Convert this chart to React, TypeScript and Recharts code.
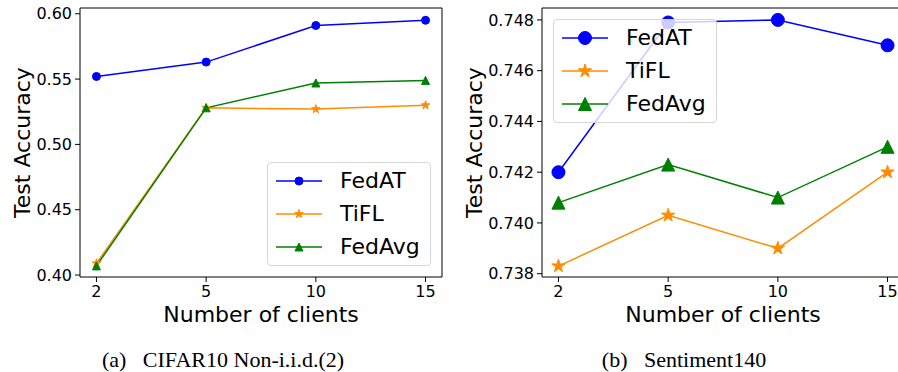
import React from 'react';
import { LineChart, Line, XAxis, YAxis, ReferenceArea, Legend, Label } from 'recharts';

// x categories (number of clients)
const clients = ['2', '5', '10', '15'];

// (a) CIFAR10 Non-i.i.d.(2)
const cifarFedAT = [0.552, 0.563, 0.591, 0.595];
const cifarTiFL = [0.409, 0.528, 0.527, 0.53];
const cifarFedAvg = [0.407, 0.528, 0.547, 0.549];
const cifarTicks = [0.4, 0.45, 0.5, 0.55, 0.6];

// (b) Sentiment140
const sentFedAT = [0.742, 0.7479, 0.748, 0.747];
const sentTiFL = [0.7383, 0.7403, 0.739, 0.742];
const sentFedAvg = [0.7408, 0.7423, 0.741, 0.743];
const sentTicks = [0.738, 0.74, 0.742, 0.744, 0.746, 0.748];

const FONT = '"DejaVu Sans", sans-serif';
const SERIF = '"Liberation Serif", "Times New Roman", serif';

type Shape = 'circle' | 'star' | 'triangle';

const series: { key: string; name: string; color: string; shape: Shape }[] = [
  { key: 'fedat', name: 'FedAT', color: '#0000ff', shape: 'circle' },
  { key: 'tifl', name: 'TiFL', color: '#ff8c00', shape: 'star' },
  { key: 'fedavg', name: 'FedAvg', color: '#008000', shape: 'triangle' },
];

const buildRows = (a: number[], b: number[], c: number[]) =>
  clients.map((label, i) => ({ idx: i, label, fedat: a[i], tifl: b[i], fedavg: c[i] }));

const cifarData = buildRows(cifarFedAT, cifarTiFL, cifarFedAvg);
const sentData = buildRows(sentFedAT, sentTiFL, sentFedAvg);

const Marker = ({ shape, cx, cy, r, color }: { shape: Shape; cx: number; cy: number; r: number; color: string }) => {
  if (shape === 'circle') return <circle cx={cx} cy={cy} r={r} fill={color} stroke={color} strokeWidth={1} />;
  if (shape === 'triangle') {
    const pts = `${cx},${cy - r} ${cx - r},${cy + r} ${cx + r},${cy + r}`;
    return <polygon points={pts} fill={color} stroke={color} strokeWidth={1} />;
  }
  const pts: string[] = [];
  for (let k = 0; k < 10; k++) {
    const rad = k % 2 === 0 ? r : r * 0.38;
    const ang = -Math.PI / 2 + (k * Math.PI) / 5;
    pts.push(`${cx + rad * Math.cos(ang)},${cy + rad * Math.sin(ang)}`);
  }
  return <polygon points={pts.join(' ')} fill={color} stroke={color} strokeWidth={1} />;
};

const sizes = {
  small: { circle: 4, star: 4.5, triangle: 4 },
  big: { circle: 6.5, star: 7, triangle: 6.5 },
};

const LegendBox = ({ size }: { size: 'small' | 'big' }) => (
  <div
    style={{
      boxSizing: 'border-box',
      width: 164,
      height: 104,
      border: '1px solid #d6d6d6',
      borderRadius: 4,
      background: 'rgba(255,255,255,0.8)',
      paddingTop: 1,
      fontFamily: FONT,
      fontSize: 22,
      color: '#000',
      textAlign: 'left',
    }}
  >
    {series.map((s) => (
      <div key={s.key} style={{ height: 33, lineHeight: '33px', display: 'flex', alignItems: 'center' }}>
        <svg width={46} height={20} style={{ marginLeft: 8, flex: 'none' }}>
          <line x1={0} y1={10} x2={46} y2={10} stroke={s.color} strokeWidth={1.5} />
          <Marker shape={s.shape} cx={23} cy={10} r={sizes[size][s.shape]} color={s.color} />
        </svg>
        <span style={{ marginLeft: 18 }}>{s.name}</span>
      </div>
    ))}
  </div>
);

const YTitle = ({ x, viewBox }: { x: number; viewBox?: any }) => {
  const cy = viewBox.y + viewBox.height / 2;
  return (
    <text x={x} y={cy} transform={`rotate(-90, ${x}, ${cy})`} textAnchor="middle" fontSize={22} fontFamily={FONT} fill="#000">
      Test Accuracy
    </text>
  );
};

type PanelProps = {
  data: typeof cifarData;
  width: number;
  yWidth: number;
  marginRight: number;
  domain: [number, number];
  ticks: number[];
  digits: number;
  size: 'small' | 'big';
  legendPos: { left: number; top: number };
  titleX: number;
};

const Panel = ({ data, width, yWidth, marginRight, domain, ticks, digits, size, legendPos, titleX }: PanelProps) => (
  <LineChart width={width} height={372} data={data} margin={{ top: 8, right: marginRight, left: 0, bottom: 45 }}>
    <XAxis
      type="number"
      dataKey="idx"
      domain={[-0.15, 3.15]}
      ticks={[0, 1, 2, 3]}
      tickFormatter={(v: number) => clients[v]}
      allowDataOverflow
      axisLine={false}
      tickLine={{ stroke: '#000' }}
      tickSize={5}
      tickMargin={4}
      height={50}
      tick={{ fill: '#000', fontSize: 16, fontFamily: FONT }}
    >
      <Label value="Number of clients" position="insideBottom" offset={5} fontSize={22} fontFamily={FONT} fill="#000" />
    </XAxis>
    <YAxis
      type="number"
      domain={domain}
      ticks={ticks}
      allowDataOverflow
      width={yWidth}
      axisLine={false}
      tickLine={{ stroke: '#000' }}
      tickSize={5}
      tickMargin={3}
      tickFormatter={(v: number) => v.toFixed(digits)}
      tick={{ fill: '#000', fontSize: 16, fontFamily: FONT }}
    >
      <Label content={(p: any) => <YTitle x={titleX} viewBox={p.viewBox} />} />
    </YAxis>
    {series.map((s) => (
      <Line
        key={s.key}
        type="linear"
        dataKey={s.key}
        name={s.name}
        stroke={s.color}
        strokeWidth={1.5}
        isAnimationActive={false}
        activeDot={false}
        dot={(p: any) => (
          <Marker key={`${s.key}-${p.index}`} shape={s.shape} cx={p.cx} cy={p.cy} r={sizes[size][s.shape]} color={s.color} />
        )}
      />
    ))}
    <ReferenceArea
      x1={-0.15}
      x2={3.15}
      y1={domain[0]}
      y2={domain[1]}
      fill="none"
      stroke="#000"
      strokeWidth={1}
      ifOverflow="visible"
    />
    <Legend
      layout="horizontal"
      align="center"
      verticalAlign="middle"
      content={() => <LegendBox size={size} />}
      wrapperStyle={{ left: legendPos.left, top: legendPos.top, width: 164, height: 104 }}
    />
  </LineChart>
);

const captionStyle: React.CSSProperties = {
  position: 'absolute',
  top: 349,
  fontFamily: SERIF,
  fontSize: 22,
  lineHeight: '22px',
  color: '#000',
  whiteSpace: 'pre',
  transform: 'translateX(-50%)',
};

export default function App() {
  return (
    <div style={{ position: 'fixed', left: 0, top: 0, width: 898, height: 372, overflow: 'hidden', background: '#fff' }}>
      <div style={{ position: 'absolute', left: 0, top: 0 }}>
        <Panel
          data={cifarData}
          width={450}
          yWidth={80}
          marginRight={8}
          domain={[0.3985, 0.6044]}
          ticks={cifarTicks}
          digits={2}
          size="small"
          legendPos={{ left: 267, top: 162 }}
          titleX={30}
        />
      </div>
      <div style={{ position: 'absolute', left: 450, top: 0 }}>
        <Panel
          data={sentData}
          width={470}
          yWidth={92}
          marginRight={16}
          domain={[0.73787, 0.74847]}
          ticks={sentTicks}
          digits={3}
          size="big"
          legendPos={{ left: 103, top: 19 }}
          titleX={32}
        />
      </div>
      <div style={{ ...captionStyle, left: 223 }}>{'(a)\u2002 CIFAR10 Non-i.i.d.(2)'}</div>
      <div style={{ ...captionStyle, left: 684 }}>{'(b)\u2002 Sentiment140'}</div>
    </div>
  );
}
